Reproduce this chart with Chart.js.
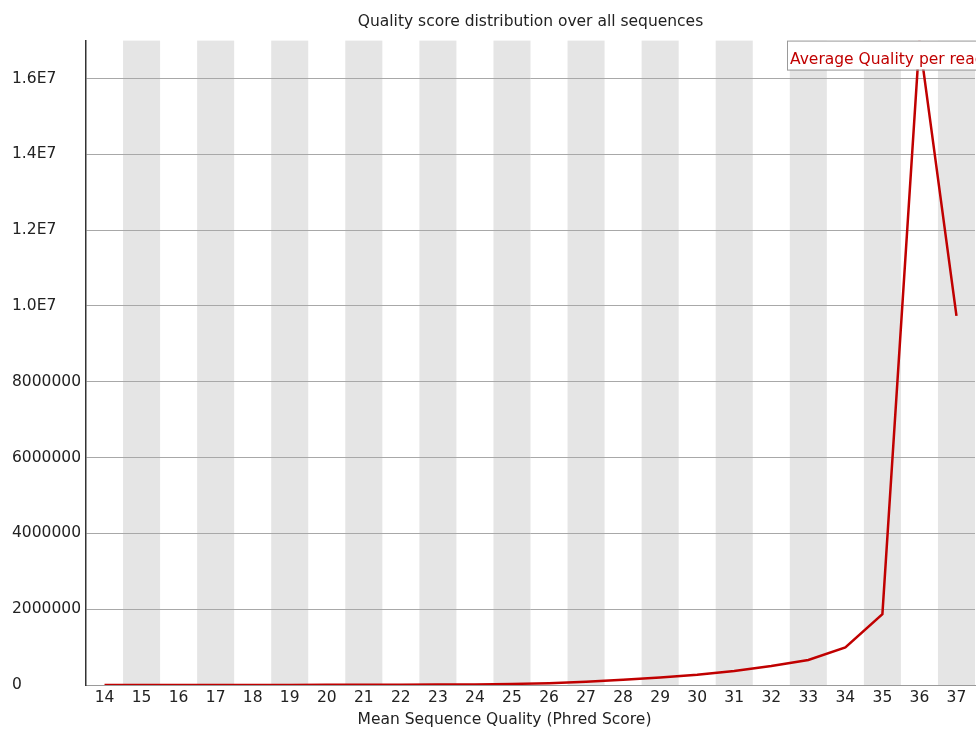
<!DOCTYPE html>
<html>
<head>
<meta charset="utf-8">
<script src="https://cdn.jsdelivr.net/npm/chart.js@4.4.0/dist/chart.umd.min.js"></script>
<style>
  body { margin: 0; background: #fff; }
  #wrap { width: 976px; height: 730px; }
</style>
</head>
<body>
<div id="wrap"><canvas id="grafica" width="976" height="730"></canvas></div>
<script>
// mean phred score per read and how many reads have it
const calidades = ['14','15','16','17','18','19','20','21','22','23','24','25',
                   '26','27','28','29','30','31','32','33','34','35','36','37'];
const lecturas = [500, 800, 1200, 1500, 2000, 2800, 3800, 5000, 7000, 10000, 16000, 28000,
                  48000, 85000, 140000, 200000, 270000, 370000, 500000, 660000, 990000, 1870000, 17000000, 9740000];

const ticksY = [0, 2000000, 4000000, 6000000, 8000000, 10000000, 12000000, 14000000, 16000000];
const etiquetasY = ['0', '2000000', '4000000', '6000000', '8000000', '1.0E7', '1.2E7', '1.4E7', '1.6E7'];

const titulo = 'Quality score distribution over all sequences';
const tituloX = 'Mean Sequence Quality (Phred Score)';
const leyenda = 'Average Quality per read';

const fuente = "'DejaVu Sans', 'Liberation Sans', sans-serif";

// grey band behind every other quality value
const bandas = {
  id: 'bandas',
  beforeDraw(chart) {
    const {ctx, chartArea, scales} = chart;
    const x = scales.x;
    const ancho = x.getPixelForValue(1) - x.getPixelForValue(0);
    ctx.save();
    ctx.fillStyle = '#e5e5e5';
    calidades.forEach((c, i) => {
      if (i % 2 === 1) {
        const px = x.getPixelForValue(i);
        ctx.fillRect(px - ancho / 2, chartArea.top, ancho, chartArea.bottom - chartArea.top);
      }
    });
    ctx.restore();
  }
};

// boxed legend in the top right corner, cut off by the canvas edge
const cajaLeyenda = {
  id: 'cajaLeyenda',
  afterDatasetsDraw(chart) {
    const {ctx, chartArea} = chart;
    const left = chartArea.right - 188;
    const top = chartArea.top;
    ctx.save();
    ctx.fillStyle = '#fff';
    ctx.fillRect(left, top, 220, 29);
    ctx.strokeStyle = '#9a9a9a';
    ctx.lineWidth = 1;
    ctx.strokeRect(left + 0.5, top + 0.5, 220, 29);
    ctx.fillStyle = '#c00000';
    ctx.font = '15.5px ' + fuente;
    ctx.textBaseline = 'middle';
    ctx.fillText(leyenda, left + 3, top + 19);
    ctx.restore();
  }
};

// x axis title, sits a bit left of the plot centre in the original
const tituloEjeX = {
  id: 'tituloEjeX',
  afterDraw(chart) {
    const {ctx, chartArea} = chart;
    ctx.save();
    ctx.fillStyle = '#222';
    ctx.font = '15.5px ' + fuente;
    ctx.textAlign = 'center';
    ctx.textBaseline = 'middle';
    ctx.fillText(tituloX, (chartArea.left + chartArea.right) / 2 - 26, chartArea.bottom + 35);
    ctx.restore();
  }
};

let grafica = new Chart(document.getElementById('grafica'), {
  type: 'line',
  data: {
    labels: calidades,
    datasets: [{
      label: leyenda,
      data: lecturas,
      borderColor: '#c00000',
      borderWidth: 2.5,
      pointRadius: 0,
      tension: 0,
      fill: false
    }]
  },
  options: {
    responsive: false,
    animation: false,
    layout: { padding: { left: 12, right: 1, top: 0, bottom: 0 } },
    plugins: {
      legend: { display: false },
      tooltip: { enabled: false },
      title: {
        display: true,
        fullSize: false,
        text: titulo,
        color: '#222',
        font: { family: fuente, size: 15.5, weight: 'normal' },
        padding: { top: 13, bottom: 9 }
      }
    },
    scales: {
      x: {
        type: 'category',
        offset: true,
        grid: { display: false, drawTicks: false },
        border: { color: '#9a9a9a', width: 1 },
        ticks: {
          color: '#222',
          font: { family: fuente, size: 15.5 },
          maxRotation: 0,
          autoSkip: false,
          padding: 4
        },
        afterFit: (scale) => { scale.height = 45; }
      },
      y: {
        min: 0,
        max: 17000000,
        grid: { color: '#a8a8a8', lineWidth: 1, drawTicks: false },
        border: { color: '#333', width: 1.5 },
        afterBuildTicks: (scale) => {
          scale.ticks = ticksY.map(v => ({ value: v }));
        },
        ticks: {
          color: '#222',
          font: { family: fuente, size: 15.5 },
          crossAlign: 'far',
          callback: (v) => etiquetasY[ticksY.indexOf(v)]
        },
        afterFit: (scale) => { scale.width = 74; }
      }
    }
  },
  plugins: [bandas, cajaLeyenda, tituloEjeX]
});
</script>
</body>
</html>
